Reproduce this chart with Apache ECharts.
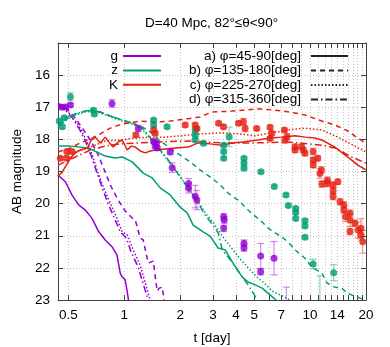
<!DOCTYPE html>
<html>
<head>
<meta charset="utf-8">
<title>D=40 Mpc light curves</title>
<script src="https://cdn.jsdelivr.net/npm/echarts@6/dist/echarts.min.js"></script>
<style>
  html, body { margin: 0; padding: 0; background: #fff; }
  #chart { width: 390px; height: 347px; }
</style>
</head>
<body>
<div id="chart"></div>
<script>
// model light curves: [t (day), AB magnitude]
const gA = [[0.44,19.11],[0.482,19.32],[0.523,19.73],[0.568,20.04],[0.617,20.20],[0.671,20.46],[0.728,20.87],[0.790,21.13],[0.859,21.34],[0.914,21.60],[0.952,22.17],[0.972,22.27],[1.012,22.38],[1.034,22.69],[1.055,23.02],[1.064,23.19]];
const gB = [[0.44,16.87],[0.488,17.02],[0.539,17.30],[0.595,17.65],[0.657,18.02],[0.716,18.42],[0.781,18.95],[0.841,19.42],[0.928,19.89],[1.012,20.23],[1.104,20.45],[1.146,20.51],[1.219,21.07],[1.265,21.13],[1.346,21.85],[1.432,21.79],[1.486,22.50],[1.504,22.72],[1.542,22.63],[1.600,22.60],[1.640,23.00],[1.661,23.19]];
const gC = [[0.44,16.90],[0.482,17.05],[0.525,17.30],[0.574,17.61],[0.625,18.02],[0.673,18.49],[0.716,18.98],[0.771,19.48],[0.841,19.98],[0.917,20.48],[0.975,20.88],[1.038,20.98],[1.118,21.44],[1.219,21.92],[1.297,22.47],[1.379,23.00],[1.396,23.16]];
const gD = [[0.44,16.93],[0.482,17.09],[0.525,17.33],[0.574,17.68],[0.617,18.05],[0.665,18.52],[0.707,18.98],[0.762,19.51],[0.820,20.01],[0.894,20.51],[0.952,20.88],[1.025,21.07],[1.090,21.51],[1.189,21.98],[1.265,22.50],[1.346,23.00],[1.362,23.16]];

const zA = [[0.44,18.21],[0.513,18.21],[0.641,18.27],[0.790,18.52],[0.894,18.58],[0.975,18.55],[1.104,18.70],[1.265,19.05],[1.414,19.20],[1.561,19.51],[1.767,19.73],[2.000,20.11],[2.181,20.29],[2.349,20.67],[2.657,20.88],[2.895,21.01],[3.20,21.38],[3.49,21.44],[3.85,21.85],[4.31,22.28],[4.64,22.44],[5.06,22.53],[5.52,22.63],[6.09,22.84],[6.56,23.00],[6.72,23.06]];
const zB = [[0.44,17.55],[0.488,17.33],[0.545,17.21],[0.617,17.12],[0.681,17.09],[0.743,17.15],[0.841,17.27],[0.975,17.40],[1.104,17.49],[1.250,17.61],[1.379,17.77],[1.467,17.93],[1.620,18.11],[1.811,18.33],[2.000,18.49],[2.264,18.70],[2.560,18.95],[2.895,19.17],[3.20,19.36],[3.62,19.67],[4.10,19.89],[4.64,20.20],[5.06,20.39],[5.52,20.57],[5.95,20.76],[6.48,20.91],[7.06,21.04],[7.61,21.19],[8.30,21.44],[9.39,21.70],[10.24,21.98],[11.58,22.16],[12.32,22.47],[13.60,22.60],[14.83,22.63],[15.77,22.78],[17.41,22.88],[19.71,23.00],[20,23.02]];
const zC = [[0.44,17.65],[0.488,17.40],[0.545,17.24],[0.617,17.15],[0.681,17.12],[0.743,17.18],[0.841,17.30],[0.975,17.43],[1.104,17.52],[1.250,17.68],[1.414,18.05],[1.561,18.36],[1.724,18.67],[1.903,18.98],[2.155,19.42],[2.438,19.86],[2.754,20.32],[3.05,20.63],[3.37,21.01],[3.71,21.32],[4.20,21.72],[4.76,22.07],[5.25,22.32],[5.73,22.50],[6.24,22.72],[6.89,22.84],[7.80,23.00],[7.99,23.06]];
const zD = [[0.44,17.58],[0.488,17.37],[0.545,17.21],[0.617,17.12],[0.681,17.09],[0.743,17.15],[0.841,17.27],[0.975,17.40],[1.104,17.49],[1.250,17.65],[1.414,18.02],[1.561,18.33],[1.724,18.64],[1.880,18.95],[2.128,19.39],[2.408,19.82],[2.720,20.35],[2.967,20.63],[3.20,20.91],[3.37,21.44],[3.81,21.82],[4.31,22.28],[4.64,22.53],[5.06,22.88],[5.18,23.06]];

const kA = [[0.44,19.14],[0.464,19.02],[0.488,18.80],[0.513,18.58],[0.545,18.42],[0.580,18.33],[0.633,18.27],[0.665,18.02],[0.699,17.93],[0.743,18.11],[0.790,17.93],[0.841,18.14],[0.872,18.24],[0.928,18.08],[0.975,18.02],[1.038,18.33],[1.090,18.21],[1.146,18.24],[1.219,18.36],[1.297,18.42],[1.379,18.36],[1.467,18.33],[1.661,18.30],[1.880,18.27],[2.208,18.24],[2.499,18.11],[2.895,18.14],[3.37,18.18],[3.81,18.11],[4.31,18.08],[5.25,18.02],[6.09,17.96],[7.06,17.93],[8.30,17.89],[9.39,17.93],[10.62,17.96],[11.58,18.02],[13.60,18.24],[15.97,18.55],[18.07,18.80],[20,18.95]];
const kB = [[0.44,18.39],[0.513,18.27],[0.580,18.11],[0.657,17.99],[0.743,17.83],[0.841,17.65],[0.975,17.52],[1.219,17.43],[1.467,17.46],[1.767,17.43],[2.128,17.37],[2.560,17.30],[2.967,17.15],[3.81,17.12],[5.25,17.05],[6.48,17.09],[7.80,17.15],[9.39,17.24],[11.58,17.43],[13.60,17.55],[15.97,17.74],[18.07,17.96],[20,18.11]];
const kC = [[0.44,18.58],[0.545,18.39],[0.657,18.24],[0.790,18.05],[0.952,18.02],[1.146,17.96],[1.379,17.93],[1.661,17.93],[2.000,17.89],[2.560,17.83],[3.28,17.80],[4.20,17.83],[5.06,17.89],[6.09,17.80],[7.06,17.74],[8.30,17.68],[9.39,17.65],[11.58,17.71],[14.11,17.93],[17.41,18.21],[20,18.39]];
const kD = [[0.44,18.80],[0.545,18.55],[0.657,18.33],[0.790,18.21],[0.952,18.14],[1.219,18.11],[1.467,18.08],[2.264,18.05],[3.37,18.11],[5.06,18.11],[7.61,18.08],[11.58,18.18],[13.60,18.27],[16.78,18.55],[20,18.74]];

// observed points: [t (day), AB magnitude, error]
const gObs = [[0.461,17.00,0.05],[0.482,16.99,0.05],[0.513,16.93,0.05],[0.859,16.88,0.12],[1.19,17.66,0.1],[1.44,18.07,0.06],[1.467,18.21,0.06],[1.49,18.12,0.06],[1.504,18.27,0.06],[1.767,18.39,0.08],[1.811,18.88,0.15],[2.22,19.37,0.15],[2.22,19.52,0.15],[2.41,19.78,0.35],[2.46,19.89,0.3],[3.43,20.41,0.1],[3.45,20.51,0.1],[3.43,20.77,0.1],[4.41,21.23,0.1],[4.41,21.38,0.1],[5.42,21.63,0.39],[5.42,22.12,0.1],[6.40,21.70,0.52],[7.45,23.25,0.65]];
const zObs = [[0.447,17.43,0.05],[0.464,17.61,0.05],[0.476,17.33,0.05],[0.513,16.67,0.12],[0.683,17.09,0.05],[0.69,17.21,0.05],[1.44,17.40,0.05],[1.44,17.55,0.05],[1.70,17.61,0.05],[2.41,17.71,0.05],[2.41,17.86,0.05],[2.41,18.02,0.05],[2.67,18.12,0.05],[3.67,17.92,0.3],[3.43,18.18,0.05],[3.43,18.38,0.05],[3.43,18.59,0.05],[4.41,18.59,0.05],[4.41,18.74,0.05],[4.41,18.90,0.05],[5.44,19.01,0.05],[6.42,19.47,0.05],[7.42,19.73,0.05],[7.64,20.06,0.05],[8.37,20.15,0.05],[8.37,20.28,0.05],[8.37,20.46,0.05],[9.39,20.53,0.05],[9.39,20.70,0.05],[9.39,21.05,0.05],[10.4,21.88,0.15],[13.4,22.15,0.25],[11.3,23.4,1.15]];
const kObs = [[0.453,18.59,0.05],[0.491,18.59,0.05],[0.491,18.38,0.05],[0.523,18.38,0.05],[1.155,17.86,0.06],[1.44,17.71,0.06],[1.467,17.81,0.06],[2.128,17.55,0.06],[2.408,17.55,0.06],[2.46,17.66,0.06],[3.22,17.50,0.06],[3.42,17.61,0.06],[4.12,17.50,0.06],[4.38,17.45,0.1],[4.47,17.66,0.1],[5.16,17.66,0.06],[6.09,17.62,0.06],[6.22,17.81,0.06],[6.09,17.97,0.06],[7.28,17.71,0.06],[7.52,17.92,0.1],[7.33,18.02,0.1],[8.30,18.23,0.08],[8.30,18.33,0.08],[9.0,18.23,0.08],[9.2,18.33,0.08],[9.39,18.43,0.08],[10.4,18.38,0.1],[10.4,18.64,0.08],[10.4,18.80,0.08],[11.0,18.59,0.08],[11.5,18.95,0.1],[11.3,19.06,0.15],[11.58,19.39,0.1],[12.4,19.27,0.1],[12.4,19.37,0.1],[13.3,19.42,0.1],[13.3,19.60,0.1],[13.3,19.78,0.1],[14.1,19.32,0.08],[14.5,19.94,0.1],[15.2,20.04,0.1],[15.2,20.20,0.1],[15.5,20.41,0.15],[16.4,20.30,0.1],[16.4,20.51,0.2],[17.4,20.61,0.1],[16.4,20.87,0.1],[18.1,20.82,0.25],[18.8,20.77,0.3],[18.8,20.98,0.15],[19.2,21.19,0.35]];

const tickDays = [0.5,1,2,3,4,5,6,7,8,9,10,11,12,13,14,15,16,17,18,19,20];
const labelDays = [0.5,1,2,3,4,5,7,10,14,20];
const bandNames = ['g', 'z', 'K'];
const phiNames = ['a) φ=45-90[deg]', 'b) φ=135-180[deg]', 'c) φ=225-270[deg]', 'd) φ=315-360[deg]'];

const FONT = '"Liberation Sans", Arial, Helvetica, sans-serif';
const PURPLE = '#9400d3', GREEN = '#009e73', RED = '#e51e10';
const ERR = { g: 'rgba(148,0,211,0.45)', z: 'rgba(0,158,115,0.45)', K: 'rgba(229,30,16,0.45)' };
const DASH = ['solid', [5, 4], [1.5, 2], [7, 3, 1.5, 3]];
const XMIN = 0.44, XMAX = 20;
const BORDER = '#404040';

const chart = echarts.init(document.getElementById('chart'));

function curve(name, data, color, k) {
  return {
    type: 'line', name: name, data: data, xAxisIndex: 0, yAxisIndex: 0,
    symbol: 'none', silent: true, z: 2,
    lineStyle: { color: color, width: 1.5, type: DASH[k] }
  };
}

function points(name, obs, color) {
  return {
    type: 'scatter', name: name, xAxisIndex: 0, yAxisIndex: 0,
    data: obs.map(o => [o[0], o[1]]),
    symbol: 'circle', symbolSize: 7, silent: true, z: 4,
    itemStyle: { color: color }
  };
}

function errBars(name, obs, color) {
  return {
    type: 'custom', name: name, xAxisIndex: 0, yAxisIndex: 0, clip: true, silent: true, z: 3,
    data: obs.map(o => [o[0], o[1] - o[2], o[1] + o[2]]),
    encode: { x: 0, y: [1, 2] },
    renderItem: function (params, api) {
      const lo = api.coord([api.value(0), api.value(1)]);
      const hi = api.coord([api.value(0), api.value(2)]);
      const w = 3.5;
      const st = { stroke: color, lineWidth: 1.2 };
      return {
        type: 'group',
        children: [
          { type: 'line', shape: { x1: lo[0], y1: lo[1], x2: hi[0], y2: hi[1] }, style: st },
          { type: 'line', shape: { x1: lo[0] - w, y1: lo[1], x2: lo[0] + w, y2: lo[1] }, style: st },
          { type: 'line', shape: { x1: hi[0] - w, y1: hi[1], x2: hi[0] + w, y2: hi[1] }, style: st }
        ]
      };
    }
  };
}

// empty series only for the legend samples
function legendLine(name, color, type) {
  return {
    type: 'line', name: name, data: [], xAxisIndex: 0, yAxisIndex: 0, symbol: 'none',
    lineStyle: { color: color, width: 2, type: type }, itemStyle: { color: color }
  };
}

const series = [];
[gA, gB, gC, gD].forEach((d, k) => series.push(curve('g' + k, d, PURPLE, k)));
[zA, zB, zC, zD].forEach((d, k) => series.push(curve('z' + k, d, GREEN, k)));
[kA, kB, kC, kD].forEach((d, k) => series.push(curve('K' + k, d, RED, k)));
series.push(errBars('gErr', gObs, ERR.g), errBars('zErr', zObs, ERR.z), errBars('KErr', kObs, ERR.K));
series.push(points('gObs', gObs, PURPLE), points('zObs', zObs, GREEN), points('KObs', kObs, RED));
series.push(legendLine('g', PURPLE, 'solid'), legendLine('z', GREEN, 'solid'), legendLine('K', RED, 'solid'));
phiNames.forEach((n, k) => series.push(legendLine(n, '#222', DASH[k])));

const gridLine = { show: true, lineStyle: { color: '#c4c4c4', width: 1, type: [1, 2] } };
const lgX = [Math.log10(XMIN), Math.log10(XMAX)];
// legend shows the line sample only, no marker
const noMarker = { color: 'transparent', borderColor: 'transparent', borderWidth: 0 };

chart.setOption({
  animation: false,
  textStyle: { fontFamily: FONT },
  title: {
    text: 'D=40 Mpc, 82°≤θ<90°',
    left: 145, top: 16, padding: 0,
    textStyle: { fontSize: 13.5, fontWeight: 'normal', color: '#000', fontFamily: FONT }
  },
  grid: { left: 58, right: 24, top: 43, bottom: 47, outerBoundsMode: 'none' },
  legend: [
    {
      data: bandNames, orient: 'vertical', align: 'right', right: 228, top: 49, padding: 0,
      itemWidth: 38, itemHeight: 14, itemGap: 0.4, selectedMode: false, itemStyle: noMarker,
      textStyle: { fontSize: 13.5, color: '#000', fontFamily: FONT }
    },
    {
      data: phiNames, orient: 'vertical', align: 'right', right: 41, top: 49, padding: 0,
      itemWidth: 37, itemHeight: 14, itemGap: 0.5, selectedMode: false, itemStyle: noMarker,
      textStyle: { fontSize: 13.5, color: '#000', fontFamily: FONT, padding: [0, 5, 0, 0] }
    }
  ],
  xAxis: [
    { type: 'log', min: XMIN, max: XMAX, position: 'bottom', show: false },
    {
      type: 'value', min: lgX[0], max: lgX[1], position: 'bottom',
      axisLine: { show: true, onZero: false, lineStyle: { color: BORDER } },
      axisTick: { show: true, inside: true, length: 5, customValues: tickDays.map(Math.log10), lineStyle: { color: BORDER } },
      axisLabel: {
        customValues: labelDays.map(Math.log10), margin: 8, fontSize: 13.5, color: '#000',
        formatter: v => String(parseFloat(Math.pow(10, v).toPrecision(6)))
      },
      splitLine: gridLine,
      name: 't [day]', nameLocation: 'middle', nameGap: 31,
      nameTextStyle: { fontSize: 13.5, color: '#000' }
    },
    {
      type: 'value', min: lgX[0], max: lgX[1], position: 'top',
      axisLine: { show: true, onZero: false, lineStyle: { color: BORDER } },
      axisTick: { show: true, inside: true, length: 5, customValues: tickDays.map(Math.log10), lineStyle: { color: BORDER } },
      axisLabel: { show: false },
      splitLine: { show: false }
    }
  ],
  yAxis: [
    {
      type: 'value', inverse: true, min: 15, max: 23, interval: 1, position: 'left',
      axisLine: { show: true, onZero: false, lineStyle: { color: BORDER } },
      axisTick: { show: true, inside: true, length: 5, lineStyle: { color: BORDER } },
      axisLabel: { margin: 8, fontSize: 13.5, color: '#000', formatter: v => (v === 15 ? '' : String(v)) },
      splitLine: gridLine,
      name: 'AB magnitude', nameLocation: 'middle', nameGap: 29, nameRotate: 90,
      nameTextStyle: { fontSize: 13.5, color: '#000' }
    },
    {
      type: 'value', inverse: true, min: 15, max: 23, interval: 1, position: 'right',
      axisLine: { show: true, onZero: false, lineStyle: { color: BORDER } },
      axisTick: { show: true, inside: true, length: 5, lineStyle: { color: BORDER } },
      axisLabel: { show: false },
      splitLine: { show: false }
    }
  ],
  series: series
});
</script>
</body>
</html>
